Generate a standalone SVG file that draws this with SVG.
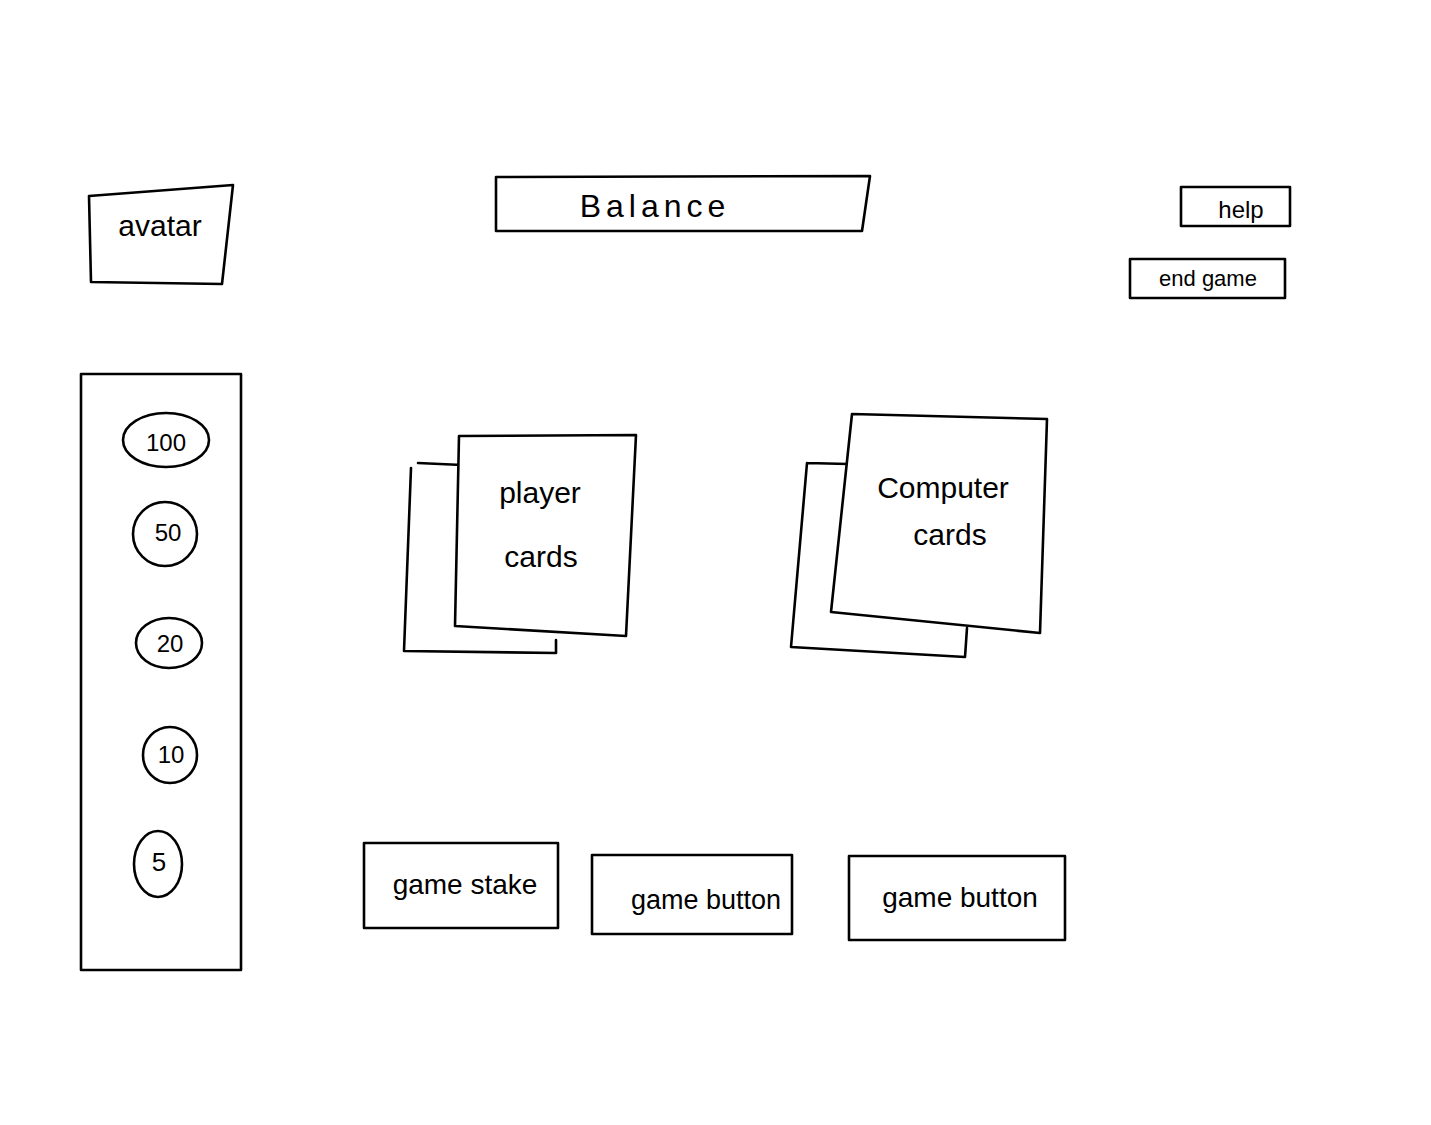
<svg xmlns="http://www.w3.org/2000/svg" width="1431" height="1125" viewBox="0 0 1431 1125">
<style>
.s{fill:none;stroke:#000;stroke-width:2.6;stroke-linejoin:round;stroke-linecap:round}
.w{fill:#fff;stroke:#000;stroke-width:2.6;stroke-linejoin:round;stroke-linecap:round}
.t{font-family:"Liberation Sans",Arial,sans-serif;fill:#000;text-anchor:middle;dominant-baseline:central}
</style>
<rect width="1431" height="1125" fill="#fff"/>
<g id="avatar">
<path class="s" d="M89,196 L233,185 L222,284 L91,282 Z"/>
<text class="t" x="160" y="225" font-size="30">avatar</text>
</g>
<g id="balance">
<path class="s" d="M496,177 L870,176 L862,231 L496,231 Z"/>
<text class="t" x="655" y="206" font-size="32" letter-spacing="5">Balance</text>
</g>
<g id="help">
<rect class="s" x="1181" y="187" width="109" height="39"/>
<text class="t" x="1241" y="209" font-size="24">help</text>
</g>
<g id="end-game">
<rect class="s" x="1130" y="259" width="155" height="39"/>
<text class="t" x="1208" y="278" font-size="22">end game</text>
</g>
<g id="chips">
<rect class="s" x="81" y="374" width="160" height="596"/>
<g id="chip-100"><ellipse class="s" cx="166" cy="440" rx="43" ry="27"/><text class="t" x="166" y="442" font-size="24">100</text></g>
<g id="chip-50"><ellipse class="s" cx="165" cy="534" rx="32" ry="32"/><text class="t" x="168" y="532" font-size="24">50</text></g>
<g id="chip-20"><ellipse class="s" cx="169" cy="643" rx="33" ry="25"/><text class="t" x="170" y="643" font-size="24">20</text></g>
<g id="chip-10"><ellipse class="s" cx="170" cy="755" rx="27" ry="28"/><text class="t" x="171" y="754" font-size="24">10</text></g>
<g id="chip-5"><ellipse class="s" cx="158" cy="864" rx="24" ry="33"/><text class="t" x="159" y="862" font-size="26">5</text></g>
</g>
<g id="player-cards">
<path class="s" d="M418,463 L462,465 M411,468 L404,651 L556,653 L556,640"/>
<path class="w" d="M459,436 L636,435 L626,636 L455,626 Z"/>
<text class="t" x="540" y="492" font-size="30">player</text>
<text class="t" x="541" y="556" font-size="30">cards</text>
</g>
<g id="computer-cards">
<path class="s" d="M807,463 L848,464 M807,463 L791,647 L965,657 L967,628"/>
<path class="w" d="M852,414 L1047,419 L1040,633 L831,612 Z"/>
<text class="t" x="943" y="487" font-size="30">Computer</text>
<text class="t" x="950" y="534" font-size="30">cards</text>
</g>
<g id="game-stake">
<rect class="s" x="364" y="843" width="194" height="85"/>
<text class="t" x="465" y="884" font-size="28">game stake</text>
</g>
<g id="game-button-1">
<rect class="s" x="592" y="855" width="200" height="79"/>
<text class="t" x="706" y="900" font-size="27">game button</text>
</g>
<g id="game-button-2">
<rect class="s" x="849" y="856" width="216" height="84"/>
<text class="t" x="960" y="897" font-size="28">game button</text>
</g>
<g id="connectors"></g>
</svg>
